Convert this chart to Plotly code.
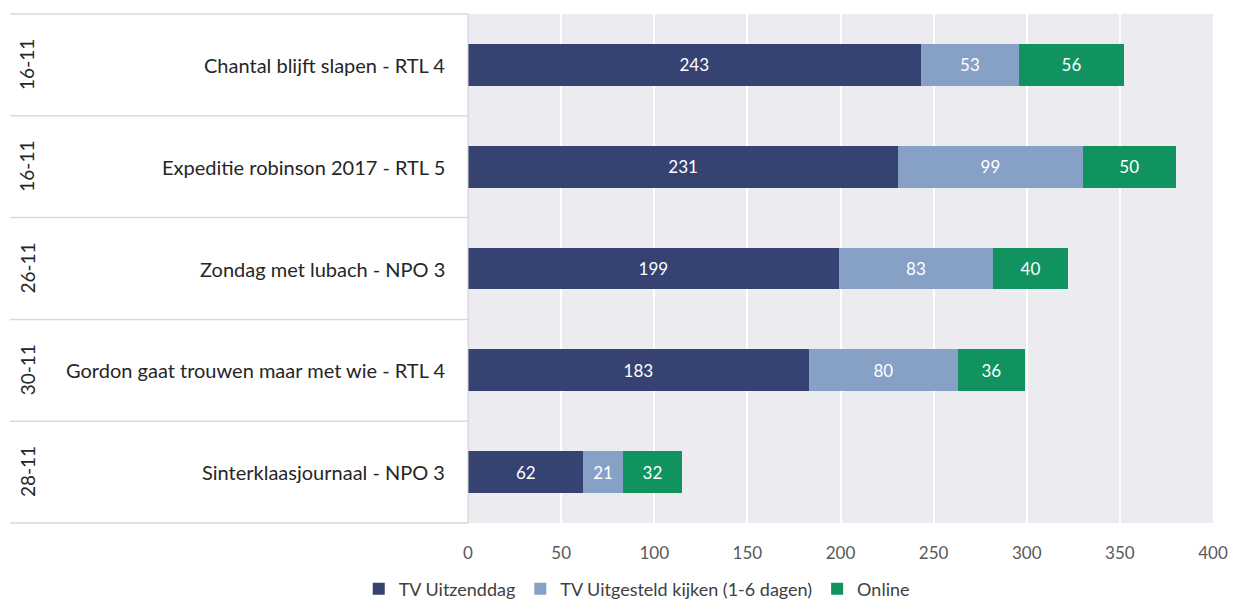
import plotly.graph_objects as go

dates = ["16-11", "16-11", "26-11", "30-11", "28-11"]
programs = [
    "Chantal blijft slapen - RTL 4",
    "Expeditie robinson 2017 - RTL 5",
    "Zondag met lubach - NPO 3",
    "Gordon gaat trouwen maar met wie - RTL 4",
    "Sinterklaasjournaal - NPO 3",
]
tv_uitzenddag = [243, 231, 199, 183, 62]
tv_uitgesteld = [53, 99, 83, 80, 21]
online = [56, 50, 40, 36, 32]
series_names = ["TV Uitzenddag", "TV Uitgesteld kijken (1-6 dagen)", "Online"]
colors = ["#364372", "#87a0c6", "#10935f"]
x_ticks = [0, 50, 100, 150, 200, 250, 300, 350, 400]

W, H = 1234, 599
FONT = "Lato"

fig = go.Figure()
for name, vals, col in zip(series_names, [tv_uitzenddag, tv_uitgesteld, online], colors):
    fig.add_trace(go.Bar(
        y=programs, x=vals, name=name, orientation="h",
        marker=dict(color=col, line=dict(width=0)),
        text=[str(v) for v in vals], textposition="inside",
        insidetextanchor="middle", textangle=0,
        textfont=dict(color="white", size=17, family=FONT),
        width=0.41,
    ))

x0p, x1p = 468 / W, 1213 / W
top_px, bot_px = 14, 523
plot_h = bot_px - top_px
fig.update_layout(
    width=W, height=H, barmode="stack",
    margin=dict(l=0, r=0, t=top_px, b=H - bot_px, autoexpand=False),
    paper_bgcolor="white", plot_bgcolor="#ebebf0",
    font=dict(family=FONT, size=17, color="#595959"),
    xaxis=dict(domain=[x0p, x1p], range=[0, 400], tickvals=x_ticks,
               showgrid=True, gridcolor="white", gridwidth=2,
               zeroline=False, showline=False, ticks="",
               tickfont=dict(size=17, color="#595959"), ticklabelstandoff=18),
    yaxis=dict(showticklabels=False, categoryorder="array",
               categoryarray=programs[::-1], showgrid=False, zeroline=False,
               range=[-0.5, len(programs) - 0.5]),
    legend=dict(orientation="h", x=0.516, xanchor="center",
                y=-(589 - bot_px) / plot_h, yanchor="middle",
                font=dict(size=18, color="#404040"), traceorder="normal",
                itemwidth=30),
    showlegend=True,
)

n = len(programs)
for i in range(n + 1):
    yp = 1 - i / n
    fig.add_shape(type="line", xref="paper", yref="paper",
                  x0=10 / W, x1=x0p, y0=yp, y1=yp,
                  line=dict(color="#d9d9d9", width=1.5))
fig.add_shape(type="line", xref="paper", yref="paper", x0=x0p, x1=x0p, y0=0, y1=1,
              line=dict(color="#d0d0d0", width=1))

for i, (d, p) in enumerate(zip(dates, programs)):
    yc = 1 - (i + 0.5) / n
    fig.add_annotation(xref="paper", yref="paper", x=27 / W, y=yc, text=d,
                       textangle=-90, showarrow=False, xanchor="center", yanchor="middle",
                       font=dict(size=19, color="#262626", family=FONT))
    fig.add_annotation(xref="paper", yref="paper", x=447 / W, y=yc, text=p,
                       showarrow=False, xanchor="right", yanchor="middle",
                       font=dict(size=20, color="#262626", family=FONT))

fig.write_html("out.html", config={"displayModeBar": False},
               post_script="document.body.style.margin='0';")
